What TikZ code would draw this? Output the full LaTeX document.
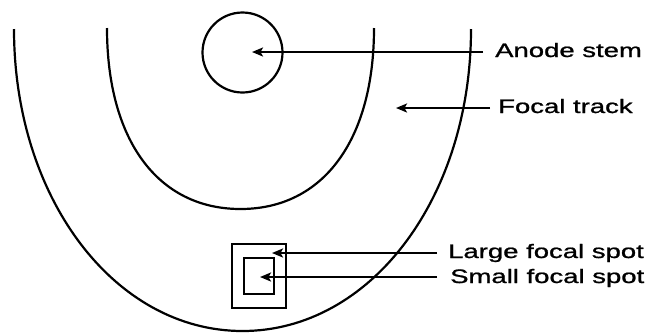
\documentclass[tikz,border=0pt]{standalone}
\usepackage{fontspec}
\setmainfont{Liberation Sans}
\newfontfamily\labfont{Liberation Sans}[FakeBold=0.9]
\usetikzlibrary{arrows.meta}
\tikzset{
  ln/.style={line width=2.2pt, black},
  arr/.style={line width=2.2pt, -{Stealth[length=11pt,width=9pt,inset=2.5pt]}},
  lab/.style={anchor=base west, inner sep=0pt, font=\labfont\fontsize{19.5pt}{22pt}\selectfont}
}
\newcommand{\wide}[1]{\scalebox{1.41}[1]{#1}}
\begin{document}
\begin{tikzpicture}[x=1pt,y=-1pt]
\useasboundingbox (0,0) rectangle (658,333);
% outer U
\draw[ln] (14,29) .. controls (14,198) and (114.5,331) .. (242.5,331)
               .. controls (370.5,331) and (471,198) .. (471,29);
% inner U (focal track)
\draw[ln] (107,28) .. controls (107,140) and (157.7,209) .. (240.5,209)
               .. controls (323.3,209) and (374,140) .. (374,28);
% anode stem circle
\node[ln, draw, circle, minimum size=80pt, inner sep=0pt] (stem) at (242.5,52.5) {};
% focal spots
\node[ln, draw, rectangle, minimum width=54pt, minimum height=64pt, inner sep=0pt] (large) at (259,276) {};
\node[ln, draw, rectangle, minimum width=30pt, minimum height=36pt, inner sep=0pt] (small) at (259,276) {};
% labels
\node[lab] (lanode) at (495,57) {\wide{Anode stem}};
\node[lab] (ltrack) at (498,113) {\wide{Focal track}};
\node[lab] (llarge) at (448,258) {\wide{Large focal spot}};
\node[lab] (lsmall) at (450,283) {\wide{Small focal spot}};
% connector ends
\coordinate (sa) at (483,52);
\coordinate (ta) at (252,52);
\coordinate (st) at (490,108);
\coordinate (tt) at (396,108);
\coordinate (sl) at (437,253);
\coordinate (tl) at (272,253);
\coordinate (ss) at (437,277);
\coordinate (ts) at (260,277);
\draw[arr] (sa) -- (ta);
\draw[arr] (st) -- (tt);
\draw[arr] (sl) -- (tl);
\draw[arr] (ss) -- (ts);
\end{tikzpicture}
\end{document}
